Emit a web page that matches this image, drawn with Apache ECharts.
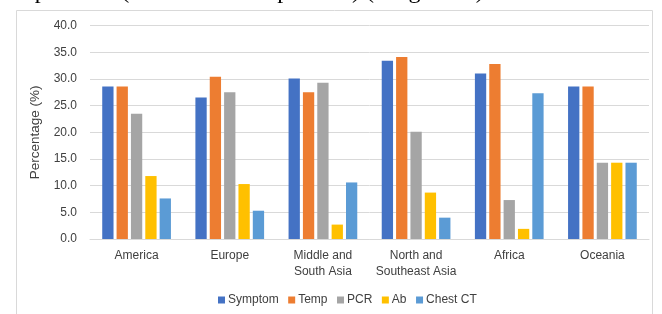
<!DOCTYPE html>
<html>
<head>
<meta charset="utf-8">
<script src="https://cdn.jsdelivr.net/npm/echarts@6/dist/echarts.min.js"></script>
<style>
  html, body { margin: 0; padding: 0; background: #fff; }
  #chart { width: 662px; height: 314px; }
</style>
</head>
<body>
<div id="chart"></div>
<script>
// 地区分类
const regions = ['America', 'Europe', 'Middle and\nSouth Asia', 'North and\nSoutheast Asia', 'Africa', 'Oceania'];
const seriesNames = ['Symptom', 'Temp', 'PCR', 'Ab', 'Chest CT'];
const colors = ['#4472C4', '#ED7D31', '#A5A5A5', '#FFC000', '#5B9BD5'];

// 各项百分比 (%)
const symptom = [28.6, 26.5, 30.1, 33.4, 31.0, 28.6];
const temp    = [28.6, 30.4, 27.5, 34.1, 32.8, 28.6];
const pcr     = [23.5, 27.5, 29.3, 20.1, 7.3, 14.3];
const ab      = [11.8, 10.3, 2.7, 8.7, 1.9, 14.3];
const chestCT = [7.6, 5.3, 10.6, 4.0, 27.3, 14.3];

const yTicks = [0, 40, 5]; // min, max, interval

const seriesData = [symptom, temp, pcr, ab, chestCT];

const chart = echarts.init(document.getElementById('chart'));
chart.setOption({
  animation: false,
  textStyle: { fontFamily: 'Liberation Sans' },
  graphic: [
    {
      // 图表外框
      type: 'rect',
      shape: { x: 16.5, y: 10.5, width: 636, height: 320 },
      style: { fill: 'none', stroke: '#d9d9d9', lineWidth: 1 },
      silent: true
    },
    {
      // 上方被裁掉的图注
      type: 'text',
      x: 4,
      y: 4,
      style: {
        text: 'Step counts (the share of all patients) (Diagram 2)',
        font: '24px "Liberation Serif"',
        fill: '#000',
        verticalAlign: 'bottom'
      },
      silent: true
    }
  ],
  grid: { left: 90, right: 13, top: 25.6, bottom: 75 },
  legend: {
    data: seriesNames,
    left: 213,
    top: 289,
    itemWidth: 7,
    itemHeight: 7,
    itemGap: 9.5,
    icon: 'rect',
    textStyle: { fontSize: 12, color: '#404040', padding: [0, 0, 0, -2] }
  },
  xAxis: {
    type: 'category',
    data: regions,
    axisTick: { show: false },
    axisLine: { lineStyle: { color: '#d9d9d9', width: 1 } },
    axisLabel: { fontSize: 12, color: '#404040', margin: 9, lineHeight: 16, interval: 0 }
  },
  yAxis: {
    type: 'value',
    min: yTicks[0],
    max: yTicks[1],
    interval: yTicks[2],
    name: 'Percentage (%)',
    nameLocation: 'middle',
    nameGap: 47,
    nameTextStyle: { fontSize: 13.5, color: '#404040' },
    axisLine: { show: false },
    axisTick: { show: false },
    axisLabel: {
      fontSize: 12,
      color: '#404040',
      margin: 13,
      formatter: v => v.toFixed(1)
    },
    splitLine: { lineStyle: { color: '#d9d9d9', width: 1 } }
  },
  series: seriesNames.map((name, i) => ({
    name: name,
    type: 'bar',
    data: seriesData[i],
    barWidth: 11.3,
    barGap: '27%',
    itemStyle: { color: colors[i] }
  }))
});
</script>
</body>
</html>
